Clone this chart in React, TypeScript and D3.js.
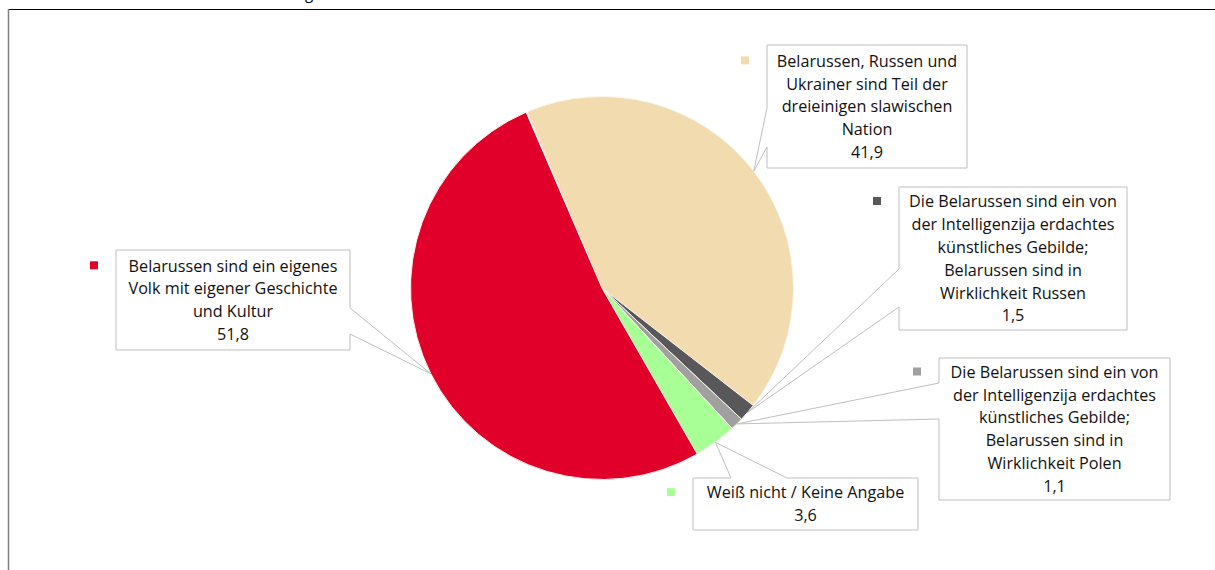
import React from "react";
import * as d3 from "d3";

const categories = [
  "Belarussen, Russen und Ukrainer sind Teil der dreieinigen slawischen Nation",
  "Die Belarussen sind ein von der Intelligenzija erdachtes künstliches Gebilde; Belarussen sind in Wirklichkeit Russen",
  "Die Belarussen sind ein von der Intelligenzija erdachtes künstliches Gebilde; Belarussen sind in Wirklichkeit Polen",
  "Weiß nicht / Keine Angabe",
  "Belarussen sind ein eigenes Volk mit eigener Geschichte und Kultur",
];
const values = [41.9, 1.5, 1.1, 3.6, 51.8];
const valueLabels = ["41,9", "1,5", "1,1", "3,6", "51,8"];
const colors = ["#F2DBAF", "#58585A", "#A0A0A0", "#A8FF96", "#E0002A"];
const labelLines = [
  ["Belarussen, Russen und", "Ukrainer sind Teil der", "dreieinigen slawischen", "Nation"],
  ["Die Belarussen sind ein von", "der Intelligenzija erdachtes", "künstliches Gebilde;", "Belarussen sind in", "Wirklichkeit Russen"],
  ["Die Belarussen sind ein von", "der Intelligenzija erdachtes", "künstliches Gebilde;", "Belarussen sind in", "Wirklichkeit Polen"],
  ["Weiß nicht / Keine Angabe"],
  ["Belarussen sind ein eigenes", "Volk mit eigener Geschichte", "und Kultur"],
];

// layout of callout boxes (x0,y0,x1,y1), pointer side and pointer base range
const boxes = [
  { x0: 767, y0: 45, x1: 967, y1: 168, side: "left", p1: 108, p2: 147 },
  { x0: 899, y0: 187, x1: 1127, y1: 330, side: "left", p1: 269, p2: 307 },
  { x0: 939, y0: 358, x1: 1170, y1: 500, side: "left", p1: 383, p2: 419 },
  { x0: 693, y0: 478, x1: 918, y1: 530, side: "top", p1: 731, p2: 787 },
  { x0: 116, y0: 250, x1: 350, y1: 350, side: "right", p1: 308, p2: 334 },
];

const cx = 602;
const cy = 288;
const R = 191.5;
const startDeg = -23;
const lineH = 22.8;
const font = "'Open Sans', sans-serif";
const fontSize = 16.2;

function calloutPath(b: any, tip: [number, number]) {
  const { x0, y0, x1, y1, side, p1, p2 } = b;
  const [tx, ty] = tip;
  if (side === "left") {
    return `M${x0},${y0}H${x1}V${y1}H${x0}V${p2}L${tx},${ty}L${x0},${p1}Z`;
  }
  if (side === "right") {
    return `M${x0},${y0}H${x1}V${p1}L${tx},${ty}L${x1},${p2}V${y1}H${x0}Z`;
  }
  // top
  return `M${x0},${y0}H${p1}L${tx},${ty}L${p2},${y0}H${x1}V${y1}H${x0}Z`;
}

export default function App() {
  const total = d3.sum(values);
  const start = (startDeg * Math.PI) / 180;
  const pie = d3
    .pie<number>()
    .sort(null)
    .value((d) => d)
    .startAngle(start)
    .endAngle(start + (2 * Math.PI * total) / 100);
  const arcs = pie(values);
  const arcGen = d3.arc<any>().innerRadius(0).outerRadius(R);

  return (
    <svg
      width={1215}
      height={570}
      style={{ position: "absolute", left: 0, top: 0 }}
    >
      <rect x={0} y={0} width={1215} height={570} fill="#fff" />
      <text x={305} y={-1.5} fontFamily={font} fontSize={15} fill="#000">
        g
      </text>
      <line x1={8} y1={9.5} x2={1215} y2={9.5} stroke="#000" strokeWidth={1.2} />
      <line x1={8.5} y1={9} x2={8.5} y2={570} stroke="#808080" strokeWidth={1.5} />
      <g transform={`translate(${cx},${cy})`}>
        {arcs.map((a, i) => (
          <path
            key={i}
            d={arcGen(a) as string}
            fill={colors[i]}
            stroke="#FBF6EC"
            strokeWidth={1}
          />
        ))}
      </g>
      {arcs.map((a, i) => {
        const mid = (a.startAngle + a.endAngle) / 2;
        const tip: [number, number] = [
          cx + R * Math.sin(mid),
          cy - R * Math.cos(mid),
        ];
        const b = boxes[i];
        const lines = [...labelLines[i], valueLabels[i]];
        const midX = (b.x0 + b.x1) / 2;
        const boxH = b.y1 - b.y0;
        const firstCenter = b.y0 + boxH / 2 - ((lines.length - 1) * lineH) / 2;
        return (
          <g key={"l" + i}>
            <path
              d={calloutPath(b, tip)}
              fill="#fff"
              stroke="#BFBFBF"
              strokeWidth={1}
            />
            <rect
              x={b.x0 - 26}
              y={firstCenter - 4.5}
              width={8}
              height={8}
              fill={colors[i]}
            />
            {lines.map((t, j) => (
              <text
                key={j}
                x={midX}
                y={firstCenter + j * lineH}
                dy="0.36em"
                textAnchor="middle"
                fontFamily={font}
                fontSize={fontSize}
                fill="#111"
              >
                {t}
              </text>
            ))}
          </g>
        );
      })}
    </svg>
  );
}
